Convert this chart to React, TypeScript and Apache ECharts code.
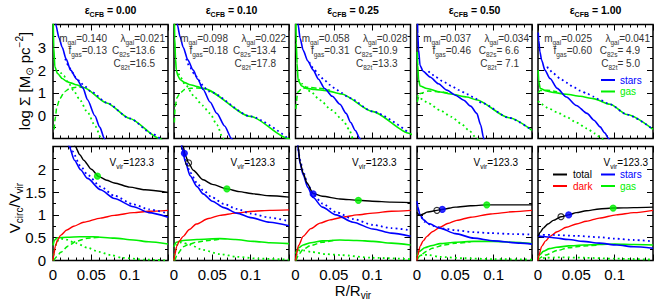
import { useEffect, useRef } from 'react';
import * as echarts from 'echarts';

type Pt = [number, number];

const FONT = '"Liberation Sans", Arial, Helvetica, "DejaVu Sans", sans-serif';
const BLUE = '#0000ff';
const GREEN = '#00f000';
const RED = '#ff0000';
const BLACK = '#000000';

// ---- labels / annotations ----
const epsLabels = ['0.00', '0.10', '0.25', '0.50', '1.00'];
const mGal = ['0.140', '0.098', '0.058', '0.037', '0.025'];
const lamGal = ['0.021', '0.022', '0.028', '0.034', '0.041'];
const fGas = ['0.13', '0.18', '0.31', '0.46', '0.60'];
const c82s = ['13.6', '13.4', '10.9', ' 6.6', ' 4.9'];
const c82t = ['16.5', '17.8', '13.3', ' 7.1', ' 5.0'];
const vVir = ['123.3', '123.3', '123.3', '123.3', '123.3'];

// ---- top row: log surface density ----
const sigStars: Pt[][] = [
  [[0.002, 4.6], [0.0035, 4.0], [0.008, 3.4], [0.012, 3.0], [0.017, 2.5], [0.023, 2.0], [0.031, 1.6], [0.039, 1.22], [0.045, 0.7], [0.0546, 0.0], [0.061, -0.5], [0.067, -1.0], [0.069, -1.2]],
  [[0.003, 4.6], [0.0043, 4.0], [0.008, 3.45], [0.012, 3.0], [0.018, 2.45], [0.025, 2.0], [0.031, 1.6], [0.038, 1.15], [0.047, 0.6], [0.056, 0.1], [0.066, -0.45], [0.075, -1.0], [0.078, -1.2]],
  [[0.002, 4.6], [0.0034, 4.0], [0.006, 3.4], [0.01, 2.87], [0.016, 2.4], [0.023, 2.0], [0.03, 1.6], [0.038, 1.19], [0.048, 0.85], [0.058, 0.5], [0.066, 0.1], [0.072, -0.3], [0.078, -0.65], [0.084, -1.0], [0.087, -1.2]],
  [[0.0005, 4.5], [0.001, 3.6], [0.002, 2.9], [0.004, 2.2], [0.008, 1.95], [0.017, 1.7], [0.028, 1.4], [0.039, 1.12], [0.05, 0.9], [0.061, 0.68], [0.07, 0.42], [0.078, 0.1], [0.083, -0.4], [0.087, -1.0], [0.089, -1.2]],
  [[0.0003, 3.65], [0.001, 3.3], [0.0025, 2.8], [0.0048, 2.43], [0.009, 2.0], [0.0157, 1.63], [0.025, 1.2], [0.037, 0.82], [0.05, 0.45], [0.064, 0.1], [0.073, -0.2], [0.081, -0.49], [0.087, -0.75], [0.092, -1.0], [0.094, -1.1]],
];
const sigStarsFit: Pt[][] = [
  [[0.016, 2.5], [0.02, 2.2], [0.025, 1.9], [0.03, 1.68], [0.035, 1.5], [0.04, 1.33], [0.05, 1.05], [0.07, 0.57], [0.1, -0.12], [0.13, -0.8], [0.14, -1.02]],
  [[0.016, 2.5], [0.021, 2.1], [0.026, 1.85], [0.03, 1.7], [0.034, 1.5], [0.038, 1.3], [0.045, 1.07], [0.1, -0.03], [0.149, -1.0]],
  [[0.018, 2.35], [0.023, 2.1], [0.03, 1.8], [0.038, 1.55], [0.045, 1.35], [0.052, 1.18], [0.06, 1.0], [0.07, 0.78], [0.1, 0.19], [0.149, -0.78]],
  [[0.015, 1.95], [0.02, 1.8], [0.024, 1.7], [0.035, 1.48], [0.045, 1.3], [0.055, 1.12], [0.065, 0.95], [0.074, 0.8], [0.085, 0.55], [0.12, -0.09], [0.15, -0.64]],
  [[0.012, 2.15], [0.0135, 2.07], [0.02, 1.85], [0.029, 1.63], [0.037, 1.45], [0.046, 1.26], [0.055, 1.1], [0.064, 0.97], [0.072, 0.84], [0.081, 0.68], [0.094, 0.5], [0.116, 0.05], [0.15, -0.6]],
];
const sigGas: Pt[][] = [
  [[0.0003, 4.1], [0.001, 3.0], [0.0024, 2.14], [0.006, 1.85], [0.012, 1.63], [0.018, 1.5], [0.023, 1.44], [0.03, 1.36], [0.04, 1.24], [0.07, 0.56], [0.1, -0.12], [0.139, -1.0], [0.145, -1.14]],
  [[0.0005, 4.2], [0.001, 3.4], [0.002, 2.5], [0.003, 2.0], [0.005, 1.75], [0.008, 1.58], [0.014, 1.45], [0.021, 1.36], [0.03, 1.28], [0.038, 1.2], [0.1, -0.03], [0.149, -1.0], [0.152, -1.06]],
  [[0.0004, 4.2], [0.001, 3.2], [0.002, 2.3], [0.0034, 1.55], [0.008, 1.3], [0.014, 1.2], [0.025, 1.15], [0.04, 1.1], [0.06, 0.95], [0.1, 0.19], [0.149, -0.78], [0.152, -0.84]],
  [[0.0002, 2.8], [0.001, 2.2], [0.002, 1.6], [0.004, 1.3], [0.013, 1.19], [0.03, 1.04], [0.044, 0.95], [0.065, 0.82], [0.077, 0.7], [0.12, -0.09], [0.15, -0.64]],
  [[0.0002, 2.0], [0.001, 1.5], [0.003, 1.19], [0.011, 1.09], [0.02, 1.02], [0.037, 0.94], [0.055, 0.85], [0.072, 0.75], [0.094, 0.5], [0.116, 0.05], [0.15, -0.6]],
];
const sigGasFit: Pt[][] = [
  [[0.01, 1.9], [0.014, 1.75], [0.02, 1.45], [0.027, 1.1], [0.034, 0.75], [0.045, 0.15], [0.055, -0.45], [0.063, -1.0], [0.066, -1.2]],
  [[0.006, 1.85], [0.008, 1.7], [0.015, 1.35], [0.027, 0.82], [0.037, 0.45], [0.047, 0.1], [0.056, -0.4], [0.064, -1.0], [0.066, -1.15]],
  [[0.004, 1.6], [0.0078, 1.41], [0.02, 1.05], [0.032, 0.68], [0.047, 0.25], [0.062, -0.2], [0.07, -0.6], [0.075, -1.0], [0.077, -1.15]],
  [[0.0003, 0.9], [0.0043, 0.75], [0.015, 0.55], [0.03, 0.24], [0.045, -0.05], [0.057, -0.34], [0.068, -0.65], [0.078, -1.0], [0.08, -1.1]],
  [[0.0003, 0.65], [0.0026, 0.54], [0.015, 0.3], [0.025, 0.15], [0.037, -0.05], [0.05, -0.3], [0.064, -0.56], [0.074, -0.78], [0.083, -1.0], [0.086, -1.1]],
];
const sigGasDash: Pt[][] = [
  [[0.0015, -0.6], [0.003, -0.1], [0.005, 0.4], [0.009, 0.75], [0.015, 1.05], [0.022, 1.2], [0.03, 1.25], [0.04, 1.24]],
  [[0.0005, -0.3], [0.0015, 0.4], [0.004, 0.8], [0.008, 1.0], [0.014, 1.15], [0.022, 1.2], [0.03, 1.22], [0.04, 1.18]],
  [[0.0005, 0.3], [0.003, 1.04], [0.008, 1.18], [0.016, 1.25], [0.03, 1.2], [0.045, 1.12]],
  [[0.0003, 0.6], [0.004, 0.97], [0.015, 1.08], [0.03, 1.05], [0.045, 0.96]],
  [[0.0003, 1.0], [0.003, 1.1], [0.012, 1.12], [0.025, 1.05]],
];

// ---- bottom row: circular velocity / Vvir ----
const vTotal: Pt[][] = [
  [[0.025, 2.75], [0.029, 2.5], [0.035, 2.32], [0.04, 2.2], [0.05, 2.0], [0.06, 1.84], [0.07, 1.76], [0.08, 1.7], [0.1, 1.61], [0.12, 1.55], [0.15, 1.49]],
  [[0.009, 2.7], [0.012, 2.5], [0.015, 2.3], [0.019, 2.14], [0.025, 1.98], [0.038, 1.77], [0.05, 1.67], [0.069, 1.57], [0.085, 1.51], [0.104, 1.46], [0.125, 1.42], [0.15, 1.39]],
  [[0.002, 2.7], [0.0034, 2.5], [0.006, 2.15], [0.0099, 1.92], [0.015, 1.7], [0.023, 1.47], [0.035, 1.41], [0.058, 1.35], [0.082, 1.32], [0.1, 1.3], [0.125, 1.28], [0.15, 1.27]],
  [[0, 1.06], [0.002, 1.0], [0.004, 0.99], [0.008, 1.02], [0.013, 1.06], [0.02, 1.08], [0.026, 1.1], [0.033, 1.12], [0.05, 1.17], [0.07, 1.2], [0.091, 1.22], [0.12, 1.22], [0.15, 1.22]],
  [[0, 0.53], [0.003, 0.62], [0.0069, 0.71], [0.013, 0.8], [0.02, 0.88], [0.03, 0.96], [0.04, 1.0], [0.05, 1.05], [0.063, 1.09], [0.08, 1.13], [0.098, 1.15], [0.125, 1.16], [0.15, 1.17]],
];
const vStars: Pt[][] = [
  [[0.018, 2.7], [0.021, 2.5], [0.028, 2.2], [0.036, 1.99], [0.045, 1.8], [0.062, 1.55], [0.08, 1.36], [0.105, 1.18], [0.125, 1.05], [0.15, 0.95]],
  [[0.008, 2.7], [0.01, 2.5], [0.015, 2.15], [0.021, 1.86], [0.03, 1.62], [0.038, 1.46], [0.05, 1.3], [0.065, 1.16], [0.082, 1.04], [0.1, 0.94], [0.125, 0.84], [0.15, 0.76]],
  [[0.002, 2.7], [0.003, 2.5], [0.006, 2.12], [0.01, 1.88], [0.016, 1.6], [0.023, 1.38], [0.035, 1.17], [0.053, 1.0], [0.075, 0.84], [0.101, 0.69], [0.125, 0.6], [0.15, 0.53]],
  [[0, 1.3], [0.001, 1.18], [0.004, 1.0], [0.0087, 0.89], [0.015, 0.81], [0.03, 0.71], [0.05, 0.59], [0.074, 0.49], [0.1, 0.43], [0.135, 0.38], [0.15, 0.36]],
  [[0, 0.54], [0.01, 0.52], [0.02, 0.5], [0.04, 0.46], [0.059, 0.42], [0.08, 0.38], [0.103, 0.34], [0.125, 0.3], [0.15, 0.27]],
];
const vStarsFit: Pt[][] = [
  [[0.02, 2.6], [0.025, 2.4], [0.036, 2.07], [0.045, 1.88], [0.062, 1.62], [0.08, 1.42], [0.105, 1.23], [0.125, 1.12], [0.15, 1.03]],
  [[0.01, 2.55], [0.015, 2.2], [0.021, 1.93], [0.03, 1.7], [0.038, 1.54], [0.05, 1.38], [0.065, 1.24], [0.082, 1.13], [0.1, 1.03], [0.125, 0.94], [0.15, 0.86]],
  [[0.003, 2.55], [0.006, 2.2], [0.01, 1.95], [0.016, 1.67], [0.023, 1.45], [0.035, 1.25], [0.053, 1.06], [0.075, 0.91], [0.101, 0.78], [0.125, 0.71], [0.15, 0.66]],
  [[0.001, 1.15], [0.004, 0.98], [0.01, 0.85], [0.02, 0.76], [0.035, 0.7], [0.052, 0.66], [0.075, 0.62], [0.096, 0.6], [0.125, 0.58], [0.15, 0.57]],
  [[0, 0.56], [0.02, 0.56], [0.05, 0.54], [0.08, 0.51], [0.1, 0.48], [0.125, 0.45], [0.15, 0.42]],
];
const vDark: Pt[][] = [
  [[0, 0], [0.001, 0.12], [0.003, 0.31], [0.006, 0.45], [0.0098, 0.55], [0.018, 0.67], [0.027, 0.75], [0.04, 0.84], [0.062, 0.93], [0.08, 0.99], [0.105, 1.05], [0.125, 1.08], [0.15, 1.1]],
  [[0, 0], [0.001, 0.12], [0.0035, 0.31], [0.007, 0.43], [0.012, 0.53], [0.02, 0.68], [0.029, 0.8], [0.045, 0.92], [0.06, 0.99], [0.08, 1.04], [0.104, 1.08], [0.125, 1.1], [0.15, 1.11]],
  [[0, 0], [0.001, 0.12], [0.004, 0.33], [0.01, 0.53], [0.02, 0.7], [0.032, 0.82], [0.045, 0.89], [0.062, 0.95], [0.08, 1.0], [0.101, 1.04], [0.125, 1.08], [0.15, 1.1]],
  [[0, 0], [0.001, 0.12], [0.004, 0.31], [0.008, 0.43], [0.013, 0.53], [0.02, 0.63], [0.03, 0.73], [0.04, 0.81], [0.052, 0.88], [0.07, 0.95], [0.096, 1.02], [0.125, 1.07], [0.15, 1.1]],
  [[0, 0], [0.001, 0.1], [0.0048, 0.31], [0.01, 0.43], [0.0157, 0.53], [0.025, 0.63], [0.037, 0.73], [0.05, 0.8], [0.063, 0.86], [0.08, 0.93], [0.102, 1.0], [0.125, 1.05], [0.15, 1.1]],
];
const vGas: Pt[][] = [
  [[0, 0.33], [0.002, 0.45], [0.006, 0.5], [0.0185, 0.51], [0.035, 0.52], [0.053, 0.52], [0.08, 0.49], [0.105, 0.45], [0.125, 0.41], [0.15, 0.36]],
  [[0, 0.3], [0.003, 0.4], [0.012, 0.44], [0.03, 0.46], [0.06, 0.48], [0.08, 0.46], [0.104, 0.42], [0.125, 0.39], [0.15, 0.37]],
  [[0, 0.15], [0.004, 0.28], [0.01, 0.34], [0.02, 0.39], [0.035, 0.43], [0.058, 0.45], [0.08, 0.44], [0.101, 0.42], [0.125, 0.38], [0.15, 0.34]],
  [[0, 0.1], [0.003, 0.2], [0.01, 0.28], [0.02, 0.33], [0.03, 0.37], [0.05, 0.4], [0.074, 0.42], [0.1, 0.42], [0.125, 0.4], [0.15, 0.37]],
  [[0, 0.07], [0.002, 0.12], [0.0069, 0.2], [0.015, 0.26], [0.024, 0.29], [0.04, 0.32], [0.06, 0.34], [0.08, 0.35], [0.1, 0.36], [0.125, 0.35], [0.15, 0.34]],
];
const vGasFit: Pt[][] = [
  [[0, 0], [0.002, 0.25], [0.005, 0.42], [0.01, 0.48], [0.017, 0.46], [0.03, 0.38], [0.045, 0.28], [0.06, 0.19], [0.075, 0.12], [0.09, 0.06], [0.12, 0.02], [0.15, 0.0]],
  [[0, 0], [0.002, 0.25], [0.005, 0.38], [0.01, 0.4], [0.02, 0.35], [0.038, 0.23], [0.06, 0.14], [0.082, 0.08], [0.11, 0.04], [0.15, 0.02]],
  [[0, 0], [0.002, 0.15], [0.005, 0.22], [0.01, 0.22], [0.02, 0.19], [0.04, 0.14], [0.058, 0.12], [0.1, 0.06], [0.15, 0.03]],
  [[0, 0.03], [0.003, 0.1], [0.008, 0.13], [0.015, 0.12], [0.03, 0.08], [0.06, 0.05], [0.1, 0.03], [0.15, 0.02]],
  [[0, 0.03], [0.01, 0.06], [0.03, 0.07], [0.06, 0.06], [0.1, 0.04], [0.15, 0.02]],
];
const vGasDash: Pt[][] = [
  [[0.001, 0.0], [0.005, 0.08], [0.01, 0.18], [0.02, 0.32], [0.03, 0.42], [0.045, 0.49], [0.06, 0.51]],
  [[0.001, 0.0], [0.005, 0.15], [0.012, 0.3], [0.02, 0.36], [0.029, 0.4], [0.045, 0.44], [0.06, 0.47]],
  [[0.0005, 0.0], [0.005, 0.15], [0.01, 0.25], [0.02, 0.33], [0.035, 0.4], [0.05, 0.44]],
  [[0, 0.02], [0.005, 0.12], [0.012, 0.2], [0.02, 0.27], [0.035, 0.34], [0.05, 0.38], [0.07, 0.41]],
  [[0, 0.02], [0.01, 0.12], [0.025, 0.22], [0.04, 0.28], [0.06, 0.32], [0.08, 0.34]],
];
const markGreen: (Pt | null)[] = [[0.058, 1.85], [0.069, 1.57], [0.082, 1.32], [0.091, 1.22], [0.098, 1.15]];
const markBlue: (Pt | null)[] = [null, [0.0135, 2.35], [0.023, 1.46], [0.033, 1.12], [0.04, 1.0]];
const markOpen: (Pt | null)[] = [null, [0.019, 2.14], null, [0.026, 1.1], [0.03, 0.96]];

// ---- layout ----
const LEFTS = [53, 174, 295.5, 417, 538];
const W = 115;
const H = 114;
const TOPS = [24.5, 146.5];

function buildOption(): any {
  const grid: any[] = [];
  const xAxis: any[] = [];
  const yAxis: any[] = [];
  const series: any[] = [];
  const graphic: any[] = [];

  const tickStyle = { color: '#000', width: 1 };
  for (let r = 0; r < 2; r++) {
    for (let c = 0; c < 5; c++) {
      const g = r * 5 + c;
      grid.push({ left: LEFTS[c], top: TOPS[r], width: W, height: H, show: true, borderColor: '#000', borderWidth: 1.5, backgroundColor: 'transparent' });
      for (const pos of ['bottom', 'top']) {
        xAxis.push({
          gridIndex: g, type: 'value', min: 0, max: 0.15, interval: 0.05, position: pos,
          axisLine: { show: false, onZero: false }, splitLine: { show: false },
          axisTick: { show: true, inside: true, length: 6, lineStyle: tickStyle },
          minorTick: { show: true, splitNumber: 5, length: 3, lineStyle: tickStyle },
          axisLabel: {
            show: r === 1 && pos === 'bottom', color: '#000', fontSize: 15, fontFamily: FONT, margin: 6,
            formatter: (v: number) => (v > 0.14 ? '' : String(+v.toFixed(2))),
          },
        });
      }
      for (const pos of ['left', 'right']) {
        const top = r === 0;
        yAxis.push({
          gridIndex: g, type: 'value', position: pos,
          min: top ? -1 : 0, max: top ? 4 : 2.5, interval: top ? 1 : 0.5,
          axisLine: { show: false, onZero: false }, splitLine: { show: false },
          axisTick: { show: true, inside: true, length: 6, lineStyle: tickStyle },
          minorTick: { show: true, splitNumber: 2, length: 3, lineStyle: tickStyle },
          axisLabel: {
            show: c === 0 && pos === 'left', color: '#000', fontSize: 15, fontFamily: FONT, margin: 7,
            formatter: (v: number) => (top ? (v === -1 || v === 4 ? '' : String(v)) : v === 2.5 ? '' : String(v)),
          },
        });
      }
    }
  }

  const line = (g: number, data: Pt[], color: string, type: any, width: number, z: number) => ({
    type: 'line', xAxisIndex: 2 * g, yAxisIndex: 2 * g, data, showSymbol: false, symbol: 'none',
    smooth: 0.25, smoothMonotone: 'x', silent: true, z, clip: true,
    lineStyle: { color, width, type },
  });
  const DOT = [1.8, 3.2];
  const DASH = [5, 3];

  for (let c = 0; c < 5; c++) {
    const t = c;
    series.push(line(t, sigGasFit[c], GREEN, DOT, 1.8, 2));
    series.push(line(t, sigGasDash[c], GREEN, DASH, 1.5, 2));
    series.push(line(t, sigGas[c], GREEN, 'solid', 1.6, 3));
    series.push(line(t, sigStars[c], BLUE, 'solid', 1.6, 4));
    series.push(line(t, sigStarsFit[c], BLUE, DOT, 1.8, 5));
    const b = 5 + c;
    series.push(line(b, vGasFit[c], GREEN, DOT, 1.8, 2));
    series.push(line(b, vGasDash[c], GREEN, DASH, 1.5, 2));
    series.push(line(b, vGas[c], GREEN, 'solid', 1.6, 3));
    series.push(line(b, vDark[c], RED, 'solid', 1.4, 3));
    series.push(line(b, vStars[c], BLUE, 'solid', 1.6, 4));
    series.push(line(b, vStarsFit[c], BLUE, DOT, 1.8, 4));
    series.push(line(b, vTotal[c], BLACK, 'solid', 1.4, 5));
    const mk = (p: Pt | null, color: string, fill: string) => p && series.push({
      type: 'scatter', xAxisIndex: 2 * b, yAxisIndex: 2 * b, data: [p], symbol: 'circle', symbolSize: 6,
      silent: true, z: 10, itemStyle: { color: fill, borderColor: color, borderWidth: 1.2 },
    });
    mk(markGreen[c], GREEN, GREEN);
    mk(markBlue[c], BLUE, BLUE);
    mk(markOpen[c], BLACK, 'rgba(255,255,255,0)');
  }

  // rich text styles
  const rich = (size: number, sub: number, color: string, weight = 'normal') => ({
    n: { fontSize: size, fontFamily: FONT, fontWeight: weight, fill: color, color, lineHeight: size * 1.25, verticalAlign: 'top' },
    s: { fontSize: sub, fontFamily: FONT, fontWeight: weight, fill: color, color, verticalAlign: 'bottom' },
  });
  const txt = (x: number, y: number, text: string, r: any, align = 'left', extra: any = {}) => ({
    type: 'text', x, y, silent: true, z: 20, ...extra,
    style: { text, rich: r, align, verticalAlign: 'middle' },
  });

  const GRAY = '#333';
  for (let c = 0; c < 5; c++) {
    const right = LEFTS[c] + W;
    graphic.push(txt(LEFTS[c] + W / 2, 11, `{n|ε}{s|CFB}{n| = ${epsLabels[c]}}`, rich(10.5, 7, '#000', 'bold'), 'center'));
    const rs = rich(10, 6.5, GRAY);
    graphic.push(txt(right - 61, 39.5, `{n|m}{s|gal}{n|=${mGal[c]}}`, rs, 'right'));
    graphic.push(txt(right - 3, 39.5, `{n|λ}{s|gal}{n|=${lamGal[c]}}`, rs, 'right'));
    graphic.push(txt(right - 61, 52, `{n|f}{s|gas}{n|=${fGas[c]}}`, rs, 'right'));
    graphic.push(txt(right - 13, 52, `{n|C}{s|82s}{n|=${c82s[c]}}`, rs, 'right'));
    graphic.push(txt(right - 13, 64.5, `{n|C}{s|82t}{n|=${c82t[c]}}`, rs, 'right'));
    graphic.push(txt(right - (c === 4 ? 5 : 14), 164, `{n|V}{s|vir}{n|=${vVir[c]}}`, rich(10, 6.5, '#000'), 'right'));
  }

  // legends
  const legLine = (x1: number, y: number, color: string) => ({
    type: 'line', silent: true, z: 20, shape: { x1, y1: y, x2: x1 + 14, y2: y }, style: { stroke: color, lineWidth: 2 },
  });
  const legText = (x: number, y: number, text: string, color: string) => ({
    type: 'text', x, y, silent: true, z: 20,
    style: { text, fill: color, fontSize: 10, fontFamily: FONT, align: 'left', verticalAlign: 'middle' },
  });
  graphic.push(legLine(601, 80, BLUE), legText(620, 80, 'stars', BLUE));
  graphic.push(legLine(601, 91.5, GREEN), legText(620, 91.5, 'gas', GREEN));
  graphic.push(legLine(553, 174.5, BLACK), legText(573, 174.5, 'total', BLACK));
  graphic.push(legLine(601, 174.5, BLUE), legText(620, 174.5, 'stars', BLUE));
  graphic.push(legLine(553, 186, RED), legText(573, 186, 'dark', RED));
  graphic.push(legLine(601, 186, GREEN), legText(620, 186, 'gas', GREEN));

  // axis titles
  const big = {
    n: { fontSize: 15, fontFamily: FONT, fill: '#000', lineHeight: 20, verticalAlign: 'middle' },
    s: { fontSize: 10, fontFamily: FONT, fill: '#000', verticalAlign: 'bottom' },
    p: { fontSize: 10, fontFamily: FONT, fill: '#000', verticalAlign: 'top' },
  };
  graphic.push(txt(24, 81, '{n|log Σ [M}{s|⊙}{n| pc}{p|−2}{n|]}', big, 'center', { rotation: Math.PI / 2 }));
  graphic.push(txt(14, 208, '{n|V}{s|circ}{n|/V}{s|vir}', big, 'center', { rotation: Math.PI / 2 }));
  graphic.push(txt(353, 290, '{n|R/R}{s|vir}', big, 'center'));

  return { animation: false, backgroundColor: '#fff', grid, xAxis, yAxis, series, graphic };
}

export default function App() {
  const ref = useRef<HTMLDivElement>(null);
  useEffect(() => {
    const chart = echarts.init(ref.current!, null, { renderer: 'svg' });
    chart.setOption(buildOption());
    return () => chart.dispose();
  }, []);
  return <div ref={ref} style={{ position: 'absolute', left: 0, top: 0, width: 664, height: 306 }} />;
}
